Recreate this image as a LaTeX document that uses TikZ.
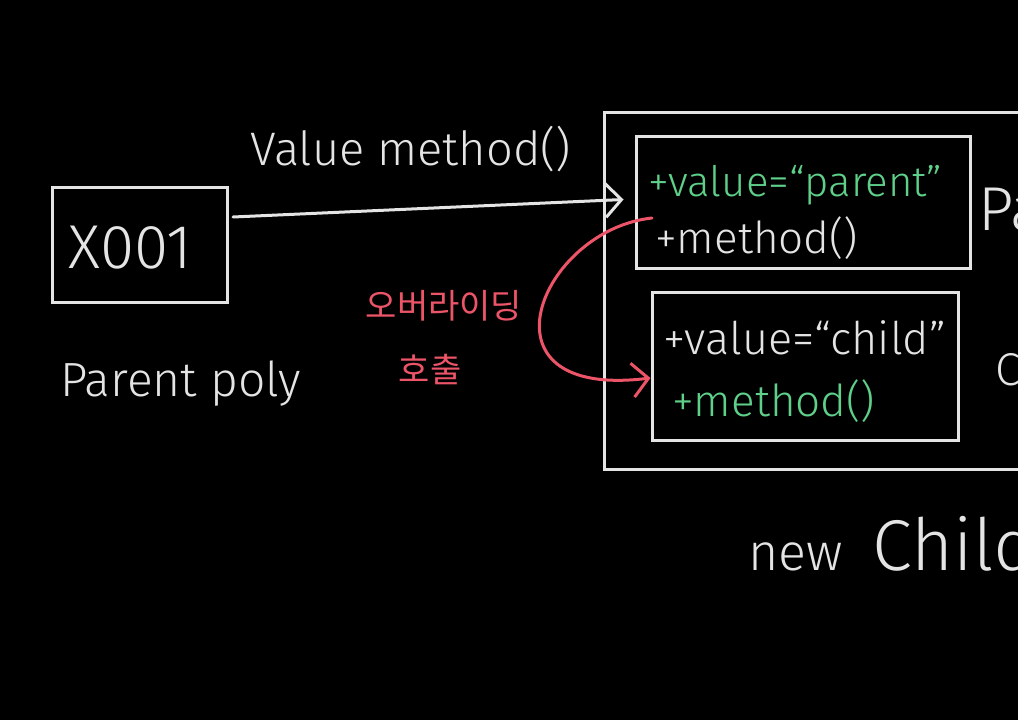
\documentclass[tikz,border=0pt]{standalone}
\usepackage{fontspec}
\setmainfont{Fira Sans}[UprightFont={* Light}]
\newfontfamily\kr{Noto Sans CJK KR}
\usepackage{xcolor}
\usetikzlibrary{arrows.meta}
\definecolor{chalk}{HTML}{E4E4E4}
\definecolor{mint}{HTML}{5FD08A}
\definecolor{rose}{HTML}{EC5468}

\begin{document}
\begin{tikzpicture}[x=1pt, y=-1pt,
        >={Straight Barb[length=16pt, width=34pt]},
        box/.style={draw=chalk, line width=3pt, inner sep=0pt},
        txt/.style={anchor=base west, inner sep=0pt, text=chalk},
        arr/.style={->, line width=3pt, line cap=round}
    ]
        \useasboundingbox (0,0) rectangle (1018,720);
        \fill[black] (0,0) rectangle (1018,720);
        \clip (0,0) rectangle (1018,720);

        \node[box, minimum width=175pt, minimum height=115pt] (ref) at (140,245) {};
        \node[box, minimum width=456pt, minimum height=357pt] (obj) at (832,291) {};
        \node[box, minimum width=334pt, minimum height=132pt] (pbox) at (803,202) {};
        \node[box, minimum width=306pt, minimum height=148pt] (cbox) at (805,366) {};

        \node[txt, font=\fontsize{62}{62}\selectfont] (addr) at (68,268) {X001};
        \node[txt, font=\fontsize{48}{48}\selectfont] (poly) at (60,396) {Parent poly};
        \node[txt, font=\fontsize{47}{47}\selectfont] (call) at (250,165) {Value method()};

        \node[txt, text=mint, font=\fontsize{42}{42}\selectfont] (pv) at (648,196) {+value=“parent”};
        \node[txt, font=\fontsize{44}{44}\selectfont] (pm) at (655,253) {+method()};
        \node[txt, font=\fontsize{45}{45}\selectfont] (cv) at (663,354) {+value=“child”};
        \node[txt, text=mint, font=\fontsize{44}{44}\selectfont] (cm) at (672,416) {+method()};

        \node[txt, font=\fontsize{62}{62}\selectfont] (plabel) at (978,230) {Parent};
        \node[txt, font=\fontsize{46}{46}\selectfont] (clabel) at (995,385) {Child};
        \node[txt, font=\fontsize{52}{52}\selectfont] (new) at (748,570)
            {new\hspace{30pt}{\fontsize{72}{72}\selectfont Child}};

        \node[text=rose, font=\kr\fontsize{34}{34}\selectfont] (ovrtxt) at (444,306) {오버라이딩};
        \node[text=rose, font=\kr\fontsize{34}{34}\selectfont] (calltxt) at (430,370) {호출};

        \coordinate (ovr) at (652,218);
        \draw[arr, chalk, shorten >=11pt] ([xshift=4pt, yshift=28pt]ref.east) -- ([yshift=3pt]pbox.west);
        \draw[arr, rose] (ovr) .. controls (540,230) and (470,400) .. ([yshift=-12pt]cbox.west);
    \end{tikzpicture}
\end{document}
